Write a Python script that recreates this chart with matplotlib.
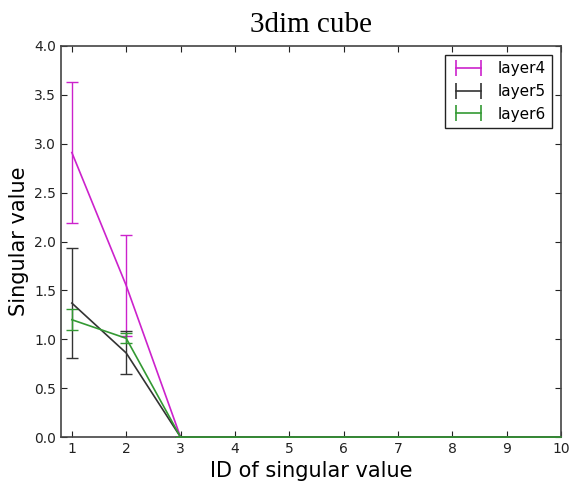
import matplotlib
matplotlib.use('Agg')
import matplotlib.pyplot as plt
from matplotlib.lines import Line2D

# singular value IDs and per-layer means / std errors
ids = [1, 2, 3, 4, 5, 6, 7, 8, 9, 10]
layer4 = [2.91, 1.55, 0, 0, 0, 0, 0, 0, 0, 0]
layer4_err = [0.72, 0.52, 0, 0, 0, 0, 0, 0, 0, 0]
layer5 = [1.37, 0.86, 0, 0, 0, 0, 0, 0, 0, 0]
layer5_err = [0.56, 0.22, 0, 0, 0, 0, 0, 0, 0, 0]
layer6 = [1.20, 1.01, 0, 0, 0, 0, 0, 0, 0, 0]
layer6_err = [0.11, 0.05, 0, 0, 0, 0, 0, 0, 0, 0]

fig = plt.figure(figsize=(5.7, 4.84), dpi=100)
ax = fig.add_axes([0.107, 0.097, 0.877, 0.808])

handles = []
for y, err, col, name in [(layer4, layer4_err, '#cc22cc', 'layer4'),
                          (layer5, layer5_err, '#333333', 'layer5'),
                          (layer6, layer6_err, '#339933', 'layer6')]:
    eb = ax.errorbar(ids, y, yerr=err, color=col, linewidth=1.2,
                     elinewidth=1.0, capsize=4, capthick=1.0, zorder=3)
    eb[0].set_clip_on(False)
    # legend proxy: horizontal line with end caps
    handles.append(Line2D([], [], color=col, linewidth=1.2, marker='|',
                          markersize=12, markeredgewidth=1.2, label=name))

ax.set_xlim(0.8, 10)
ax.set_ylim(0, 4)
ax.set_xticks(range(1, 11))
ax.set_yticks([0, 0.5, 1.0, 1.5, 2.0, 2.5, 3.0, 3.5, 4.0])
ax.set_yticklabels(['0.0', '0.5', '1.0', '1.5', '2.0', '2.5', '3.0', '3.5', '4.0'])
ax.tick_params(direction='in', top=True, right=True, length=4, labelsize=10,
               colors='#222222')
for s in ax.spines.values():
    s.set_color('#444444')
    s.set_linewidth(1.2)

ax.set_xlabel('ID of singular value', fontsize=15)
ax.set_ylabel('Singular value', fontsize=15)
ax.set_title('3dim cube', fontsize=21, family='Liberation Serif', pad=10)

leg = ax.legend(handles=handles, loc='upper right', fontsize=11, fancybox=False,
                framealpha=1, handlelength=2.2, numpoints=2, borderaxespad=0.6)
leg.get_frame().set_edgecolor('#222222')

fig.savefig('out.png', dpi=100)
